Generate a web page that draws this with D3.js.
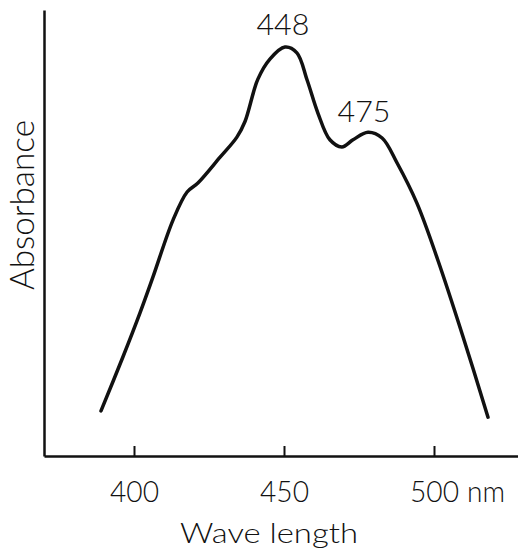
<!DOCTYPE html>
<html>
<head>
<meta charset="utf-8">
<script src="https://cdn.jsdelivr.net/npm/d3@7"></script>
<style>
  body { margin: 0; background: #fff; }
  svg { display: block; }
  text { font-family: Lato, "DejaVu Sans", sans-serif; font-weight: 300; fill: #111; }
</style>
</head>
<body>
<svg id="chart" width="518" height="551"></svg>
<script>
const wavelengths = [389.0, 396.3, 402.0, 406.3, 413.0, 417.7, 421.3, 428.7, 434.3, 437.0,
  441.3, 445.3, 450.3, 454.3, 457.7, 461.3, 465.3, 469.3, 473.0, 478.0,
  482.7, 487.7, 494.3, 501.3, 509.7, 518.0];
const absorbance = [0.101, 0.222, 0.321, 0.401, 0.529, 0.592, 0.612, 0.670, 0.715, 0.750,
  0.845, 0.890, 0.917, 0.904, 0.843, 0.769, 0.709, 0.693, 0.709, 0.726,
  0.713, 0.657, 0.567, 0.439, 0.267, 0.087];
const tickValues = [400, 450, 500];
const peakLabels = ["448", "475"];
const peakIndex = [12, 19];

const data = wavelengths.map((w, i) => ({ w: w, a: absorbance[i] }));

const svg = d3.select("#chart");

// Échelles
const x = d3.scaleLinear().domain([370, 528]).range([44, 518]);
const y = d3.scaleLinear().domain([0, 1]).range([456, 10]);

// Axe x (graduations vers le haut)
const xAxis = svg.append("g")
    .attr("transform", `translate(0, ${y(0)})`)
    .call(d3.axisBottom(x).tickValues(tickValues).tickSizeInner(-10).tickSizeOuter(0));

xAxis.select(".domain").attr("stroke", "#111").attr("stroke-width", 2.5);
xAxis.selectAll("line").attr("stroke", "#111").attr("stroke-width", 2);
xAxis.selectAll("text")
    .attr("y", 46)
    .attr("dy", null)
    .attr("fill", "#111")
    .style("font-size", "29px")
    .attr("textLength", 49)
    .attr("lengthAdjust", "spacingAndGlyphs");

// unité à côté de 500
svg.append("text")
    .attr("x", x(500) + 33)
    .attr("y", y(0) + 46)
    .style("font-size", "29px")
    .attr("textLength", 38)
    .attr("lengthAdjust", "spacingAndGlyphs")
    .text("nm");

// Axe y sans graduations
const yAxis = svg.append("g")
    .attr("transform", `translate(${x.range()[0]}, 0)`)
    .call(d3.axisLeft(y).tickValues([]).tickSizeOuter(0));

yAxis.select(".domain").attr("stroke", "#111").attr("stroke-width", 2.5);

// Courbe
const line = d3.line()
    .x(d => x(d.w))
    .y(d => y(d.a))
    .curve(d3.curveCatmullRom.alpha(0.5));

svg.append("path")
    .datum(data)
    .attr("fill", "none")
    .attr("stroke", "#111")
    .attr("stroke-width", 3.5)
    .attr("stroke-linecap", "round")
    .attr("stroke-linejoin", "round")
    .attr("d", line);

// Étiquettes des pics
svg.selectAll(".peak")
    .data(peakLabels)
    .enter().append("text")
    .attr("class", "peak")
    .attr("x", (d, i) => x(wavelengths[peakIndex[i]]) - (i === 0 ? 2 : 4))
    .attr("y", (d, i) => y(absorbance[peakIndex[i]]) - (i === 0 ? 12 : 10))
    .attr("text-anchor", "middle")
    .style("font-size", "29px")
    .attr("textLength", 53)
    .attr("lengthAdjust", "spacingAndGlyphs")
    .text(d => d);

// Titres des axes
svg.append("text")
    .attr("x", 180)
    .attr("y", 543)
    .style("font-size", "28px")
    .attr("textLength", 178)
    .attr("lengthAdjust", "spacingAndGlyphs")
    .text("Wave length");

svg.append("text")
    .attr("transform", "translate(34, 205) rotate(-90)")
    .attr("text-anchor", "middle")
    .style("font-size", "33px")
    .attr("textLength", 170)
    .attr("lengthAdjust", "spacingAndGlyphs")
    .text("Absorbance");
</script>
</body>
</html>
